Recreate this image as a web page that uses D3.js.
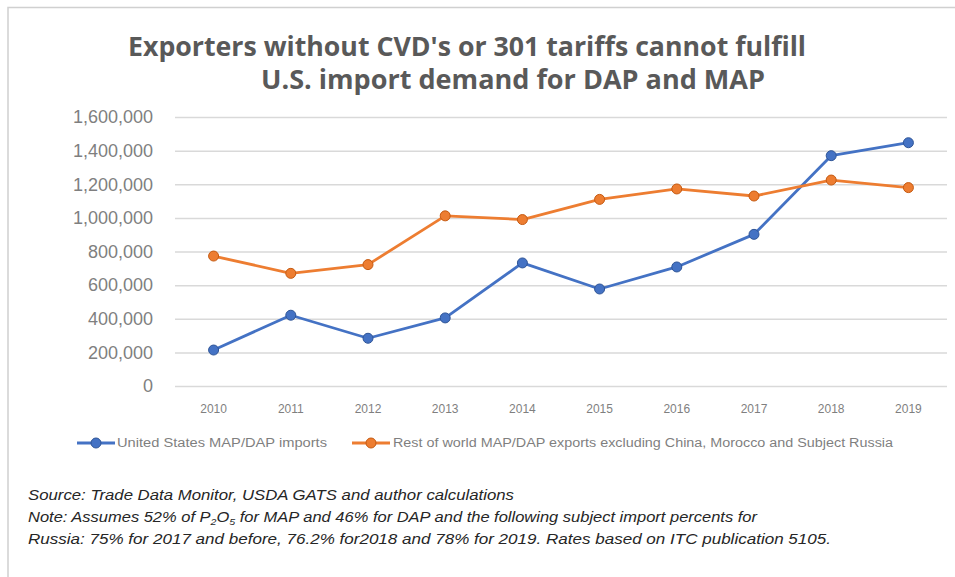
<!DOCTYPE html>
<html>
<head>
<meta charset="utf-8">
<script src="https://cdn.jsdelivr.net/npm/d3@7"></script>
<style>
  body { margin: 0; background: #fff; }
  svg { display: block; font-family: "Liberation Sans", "DejaVu Sans", sans-serif; }
  .grid line { stroke: #d9d9d9; stroke-width: 1.5; }
  .grid path { display: none; }
</style>
</head>
<body>
<svg id="chart"></svg>
<script>
const years = ['2010', '2011', '2012', '2013', '2014', '2015', '2016', '2017', '2018', '2019'];
const usImports = [214000, 421000, 284000, 405000, 732000, 577000, 708000, 902000, 1370000, 1447000];
const rowExports = [773000, 670000, 722000, 1012000, 990000, 1110000, 1172000, 1130000, 1225000, 1180000];
const yTicks = [0, 200000, 400000, 600000, 800000, 1000000, 1200000, 1400000, 1600000];
const seriesNames = [
  'United States MAP/DAP imports',
  'Rest of world MAP/DAP exports excluding China, Morocco and Subject Russia',
];

const width = 955;
const height = 577;
const colors = ['#4472C4', '#ED7D31'];
const strokes = ['#2f5597', '#c55a11'];

const svg = d3.select('#chart')
  .attr('width', width)
  .attr('height', height);

// frame
svg.append('path')
  .attr('d', `M8,${height} L8,7.5 L${width},7.5`)
  .attr('fill', 'none')
  .attr('stroke', '#d0d0d0')
  .attr('stroke-width', 1.5);

// title
const title = svg.append('g')
  .attr('fill', '#595959')
  .attr('font-weight', 'bold')
  .attr('font-size', 26)
  .attr('font-family', '"Open Sans", sans-serif');
title.append('text')
  .attr('x', 128).attr('y', 56)
  .attr('textLength', 678).attr('lengthAdjust', 'spacingAndGlyphs')
  .text("Exporters without CVD's or 301 tariffs cannot fulfill");
title.append('text')
  .attr('x', 261).attr('y', 89)
  .attr('textLength', 504).attr('lengthAdjust', 'spacingAndGlyphs')
  .text('U.S. import demand for DAP and MAP');

// scales
const x = d3.scaleBand().domain(years).range([175, 947]);
const y = d3.scaleLinear().domain([0, 1600000]).range([386, 117]);

// grid
svg.append('g')
  .attr('class', 'grid')
  .attr('transform', 'translate(175,0)')
  .call(d3.axisLeft(y).tickValues(yTicks).tickSize(-(947 - 175)).tickFormat(''));

// y labels
svg.append('g')
  .selectAll('text')
  .data(yTicks)
  .join('text')
  .attr('x', 153)
  .attr('y', (d) => y(d))
  .attr('dy', '0.35em')
  .attr('text-anchor', 'end')
  .attr('fill', '#7f7f7f')
  .attr('font-size', 18)
  .text((d) => d3.format(',')(d));

// x labels
svg.append('g')
  .selectAll('text')
  .data(years)
  .join('text')
  .attr('x', (d) => x(d) + x.bandwidth() / 2)
  .attr('y', 413)
  .attr('text-anchor', 'middle')
  .attr('fill', '#7f7f7f')
  .attr('font-size', 12)
  .text((d) => d);

// lines
const line = d3.line()
  .x((d, i) => x(years[i]) + x.bandwidth() / 2)
  .y((d) => y(d));

[usImports, rowExports].forEach((values, k) => {
  const g = svg.append('g');
  g.append('path')
    .datum(values)
    .attr('fill', 'none')
    .attr('stroke', colors[k])
    .attr('stroke-width', 2.8)
    .attr('stroke-linejoin', 'round')
    .attr('d', line);
  g.selectAll('circle')
    .data(values)
    .join('circle')
    .attr('cx', (d, i) => x(years[i]) + x.bandwidth() / 2)
    .attr('cy', (d) => y(d))
    .attr('r', 5)
    .attr('fill', colors[k])
    .attr('stroke', strokes[k])
    .attr('stroke-width', 1);
});

// legend
const legendItems = [
  { x0: 77, tx: 117, tw: 210 },
  { x0: 352, tx: 393, tw: 500 },
];
legendItems.forEach((item, k) => {
  const g = svg.append('g');
  g.append('line')
    .attr('x1', item.x0).attr('x2', item.x0 + 38)
    .attr('y1', 443).attr('y2', 443)
    .attr('stroke', colors[k])
    .attr('stroke-width', 2.8);
  g.append('circle')
    .attr('cx', item.x0 + 19).attr('cy', 443).attr('r', 5)
    .attr('fill', colors[k])
    .attr('stroke', strokes[k]);
  g.append('text')
    .attr('x', item.tx).attr('y', 443)
    .attr('dy', '0.35em')
    .attr('fill', '#7f7f7f')
    .attr('font-size', 12.5)
    .attr('textLength', item.tw).attr('lengthAdjust', 'spacingAndGlyphs')
    .text(seriesNames[k]);
});

// notes
const notes = svg.append('g')
  .attr('font-style', 'italic')
  .attr('font-size', 14)
  .attr('fill', '#262626');
notes.append('text')
  .attr('x', 28).attr('y', 500)
  .attr('textLength', 486).attr('lengthAdjust', 'spacingAndGlyphs')
  .text('Source: Trade Data Monitor, USDA GATS and author calculations');
const n2 = notes.append('text')
  .attr('x', 28).attr('y', 522)
  .attr('textLength', 729).attr('lengthAdjust', 'spacingAndGlyphs');
n2.append('tspan').text('Note: Assumes 52% of P');
n2.append('tspan').attr('font-size', 9).attr('dy', 3).text('2');
n2.append('tspan').attr('dy', -3).text('O');
n2.append('tspan').attr('font-size', 9).attr('dy', 3).text('5');
n2.append('tspan').attr('dy', -3)
  .text(' for MAP and 46% for DAP and the following subject import percents for');
notes.append('text')
  .attr('x', 28).attr('y', 544)
  .attr('textLength', 803).attr('lengthAdjust', 'spacingAndGlyphs')
  .text('Russia: 75% for 2017 and before, 76.2% for2018 and 78% for 2019. Rates based on ITC publication 5105.');
</script>
</body>
</html>
